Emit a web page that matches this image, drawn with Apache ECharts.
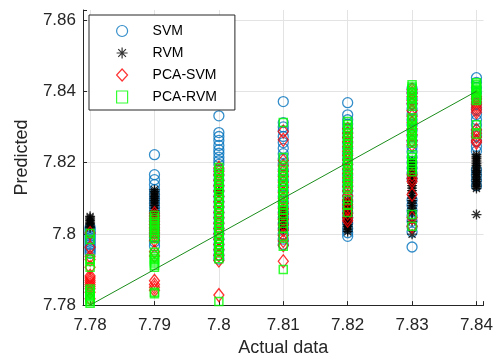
<!DOCTYPE html>
<html>
<head>
<meta charset="utf-8">
<script src="https://cdn.jsdelivr.net/npm/echarts@6/dist/echarts.min.js"></script>
<style>
  html, body { margin: 0; padding: 0; background: #fff; }
  #chart { width: 496px; height: 362px; }
</style>
</head>
<body>
<div id="chart"></div>
<script>
// actual values (x columns)
const xCats = [7.78, 7.79, 7.80, 7.81, 7.82, 7.83, 7.84];

// predicted values per column, one inner list per x value
const svmY = [
  [7.8018, 7.8012, 7.8006, 7.8000, 7.7994, 7.7988, 7.7982, 7.7976, 7.7970, 7.7964, 7.7958, 7.7952, 7.7945],
  [7.8222, 7.8166, 7.8152, 7.8138, 7.8124, 7.8110, 7.8098, 7.8086, 7.8074, 7.8062, 7.8050, 7.8038, 7.8026, 7.8014, 7.8002, 7.7990, 7.7978, 7.7966],
  [7.8331, 7.8284, 7.8273, 7.8262, 7.8248, 7.8236, 7.8226, 7.8215, 7.8205, 7.8195, 7.8180, 7.8165, 7.8150, 7.8135, 7.8120, 7.8105, 7.8090, 7.8075, 7.8060, 7.8045, 7.8030, 7.8015, 7.8000, 7.7985, 7.7970, 7.7955, 7.7940, 7.7929],
  [7.8371, 7.8312, 7.8300, 7.8289, 7.8273, 7.8256, 7.8240, 7.8225, 7.8210, 7.8195, 7.8180, 7.8165, 7.8150, 7.8135, 7.8120, 7.8105, 7.8090, 7.8075, 7.8060, 7.8045, 7.8030, 7.8015, 7.8000, 7.7985, 7.7970],
  [7.8368, 7.8334, 7.8320, 7.8308, 7.8296, 7.8284, 7.8270, 7.8255, 7.8240, 7.8225, 7.8210, 7.8195, 7.8180, 7.8165, 7.8150, 7.8135, 7.8120, 7.8105, 7.8090, 7.8075, 7.8060, 7.8045, 7.8030, 7.8015, 7.8003, 7.7993],
  [7.8408, 7.8395, 7.8380, 7.8365, 7.8350, 7.8335, 7.8320, 7.8305, 7.8290, 7.8275, 7.8260, 7.8245, 7.8230, 7.8215, 7.8200, 7.8185, 7.8170, 7.8155, 7.8095, 7.8080, 7.8065, 7.8050, 7.8035, 7.8020, 7.8005, 7.7963],
  [7.8438, 7.8425, 7.8410, 7.8395, 7.8380, 7.8365, 7.8350, 7.8335, 7.8320, 7.8305, 7.8290, 7.8275, 7.8260, 7.8245, 7.8232, 7.8180, 7.8165, 7.8150, 7.8135]
];
const rvmY = [
  [7.8049, 7.8045, 7.8041, 7.8037, 7.8033, 7.8029, 7.8025, 7.8021, 7.8017],
  [7.8124, 7.8119, 7.8114, 7.8109, 7.8104, 7.8099, 7.8094, 7.8089, 7.8084, 7.8079, 7.8072, 7.8065, 7.8058, 7.8051],
  [7.8121, 7.8117],
  [7.8068, 7.8063, 7.8058, 7.8053, 7.8048, 7.8043, 7.8038, 7.8033, 7.8028, 7.8023, 7.8018, 7.8013],
  [7.8095, 7.8090, 7.8085, 7.8080, 7.8075, 7.8070, 7.8066, 7.8061, 7.8056, 7.8051, 7.8046, 7.8041, 7.8036, 7.8031, 7.8026, 7.8021, 7.8016, 7.8011, 7.8006],
  [7.8205, 7.8198, 7.8191, 7.8184, 7.8177, 7.8170, 7.8163, 7.8156, 7.8149, 7.8142, 7.8135, 7.8128, 7.8121, 7.8114, 7.8107, 7.8100, 7.8093, 7.8086, 7.8079, 7.8072, 7.8065, 7.8058, 7.8035, 7.7999],
  [7.8222, 7.8217, 7.8212, 7.8207, 7.8202, 7.8197, 7.8192, 7.8187, 7.8182, 7.8177, 7.8172, 7.8167, 7.8162, 7.8157, 7.8152, 7.8147, 7.8142, 7.8137, 7.8132, 7.8127, 7.8054]
];
const pcaSvmY = [
  [7.8002, 7.7962, 7.7936, 7.7928, 7.7906, 7.7882, 7.7876, 7.7870, 7.7864, 7.7858, 7.7852, 7.7846, 7.7836, 7.7818],
  [7.8058, 7.8050, 7.8042, 7.8034, 7.8026, 7.8018, 7.8010, 7.8002, 7.7994, 7.7982, 7.7950, 7.7938, 7.7868, 7.7858, 7.7850, 7.7842],
  [7.8185, 7.8175, 7.8165, 7.8150, 7.8135, 7.8120, 7.8105, 7.8090, 7.8075, 7.8060, 7.8045, 7.8030, 7.8015, 7.8000, 7.7985, 7.7970, 7.7955, 7.7940, 7.7925, 7.7828],
  [7.8287, 7.8264, 7.8205, 7.8190, 7.8175, 7.8160, 7.8145, 7.8130, 7.8115, 7.8100, 7.8085, 7.8070, 7.8055, 7.8040, 7.8025, 7.8010, 7.7995, 7.7980, 7.7968, 7.7923],
  [7.8295, 7.8282, 7.8270, 7.8258, 7.8245, 7.8232, 7.8220, 7.8207, 7.8195, 7.8182, 7.8170, 7.8157, 7.8145, 7.8132, 7.8120, 7.8107, 7.8095, 7.8082, 7.8070, 7.8057, 7.8045, 7.8037],
  [7.8404, 7.8395, 7.8385, 7.8375, 7.8365, 7.8345, 7.8330, 7.8312, 7.8295, 7.8278, 7.8262, 7.8250, 7.8165, 7.8155, 7.8147, 7.8110, 7.8045, 7.8021],
  [7.8385, 7.8378, 7.8370, 7.8362, 7.8355, 7.8348, 7.8341, 7.8292, 7.8282, 7.8272, 7.8262, 7.8256]
];
const pcaRvmY = [
  [7.8001, 7.7984, 7.7929, 7.7922, 7.7906, 7.7845, 7.7840, 7.7835, 7.7830, 7.7825, 7.7820, 7.7815, 7.7810, 7.7805],
  [7.8052, 7.8046, 7.8040, 7.8034, 7.8028, 7.8022, 7.8016, 7.8010, 7.8004, 7.7998, 7.7992, 7.7986, 7.7948, 7.7942, 7.7936, 7.7930, 7.7924, 7.7918, 7.7912, 7.7906, 7.7836, 7.7832],
  [7.8186, 7.8178, 7.8170, 7.8162, 7.8154, 7.8146, 7.8138, 7.8130, 7.8122, 7.8114, 7.8106, 7.8098, 7.8090, 7.8082, 7.8074, 7.8066, 7.8058, 7.8050, 7.8042, 7.8034, 7.8026, 7.8018, 7.8010, 7.8002, 7.7994, 7.7986, 7.7978, 7.7970, 7.7962, 7.7954, 7.7946, 7.7938, 7.7930, 7.7810],
  [7.8312, 7.8214, 7.8186, 7.8178, 7.8170, 7.8162, 7.8154, 7.8146, 7.8138, 7.8130, 7.8122, 7.8114, 7.8106, 7.8098, 7.8090, 7.8082, 7.8074, 7.8066, 7.8058, 7.8045, 7.8030, 7.8015, 7.7993, 7.7965, 7.7900],
  [7.8315, 7.8307, 7.8299, 7.8291, 7.8283, 7.8275, 7.8267, 7.8259, 7.8251, 7.8243, 7.8235, 7.8227, 7.8219, 7.8211, 7.8203, 7.8195, 7.8187, 7.8179, 7.8171, 7.8163, 7.8155, 7.8147, 7.8139, 7.8131, 7.8125, 7.8095, 7.8080, 7.8060],
  [7.8418, 7.8412, 7.8406, 7.8400, 7.8394, 7.8388, 7.8382, 7.8376, 7.8370, 7.8364, 7.8358, 7.8326, 7.8320, 7.8314, 7.8308, 7.8302, 7.8296, 7.8290, 7.8284, 7.8278, 7.8272, 7.8266, 7.8260, 7.8254, 7.8222, 7.8214, 7.8206, 7.8198, 7.8190, 7.8182, 7.8174, 7.8054, 7.8021],
  [7.8424, 7.8419, 7.8414, 7.8409, 7.8404, 7.8399, 7.8394, 7.8389, 7.8384, 7.8379, 7.8374, 7.8306, 7.8280]
];
// y = x reference line
const fitX = [7.78, 7.84];
const fitY = [7.78, 7.84];

const toPoints = (cols) => {
  const pts = [];
  cols.forEach((vals, i) => vals.forEach(v => pts.push([xCats[i], v])));
  return pts;
};

const chart = echarts.init(document.getElementById('chart'), null, { renderer: 'canvas' });

const FONT = 'Liberation Sans, Arial, sans-serif';
const TXT = '#262626';
const GRID = '#e3e3e3';
const STAR = 'path://M5,0L5,10M0,5L10,5M1.5,1.5L8.5,8.5M1.5,8.5L8.5,1.5';

const hollow = (c, w) => ({ color: 'transparent', borderColor: c, borderWidth: w || 1.3 });

const option = {
  animation: false,
  backgroundColor: '#fff',
  grid: { left: 83, right: 12, top: 10, bottom: 56, containLabel: false },
  legend: {
    orient: 'vertical',
    left: 89,
    top: 15,
    padding: [9, 18, 6, 27],
    itemWidth: 11,
    itemHeight: 12,
    itemGap: 8,
    borderColor: TXT,
    borderWidth: 1,
    backgroundColor: '#fff',
    textStyle: { fontFamily: FONT, fontSize: 14, color: '#000', padding: [0, 0, 0, 20] },
    data: [
      { name: 'SVM', icon: 'circle', itemStyle: hollow('#0072BD', 1.2) },
      { name: 'RVM', icon: STAR, itemStyle: hollow('#000', 1.2) },
      { name: 'PCA-SVM', icon: 'diamond', itemStyle: hollow('#ff0000', 1.2) },
      { name: 'PCA-RVM', icon: 'rect', itemStyle: hollow('#00ff00', 1.2) }
    ]
  },
  xAxis: {
    type: 'value',
    min: 7.7789,
    max: 7.8411,
    splitNumber: 6,
    name: 'Actual data',
    nameLocation: 'middle',
    nameGap: 33,
    nameTextStyle: { fontFamily: FONT, fontSize: 18, color: TXT },
    axisLine: { lineStyle: { color: TXT, width: 1 } },
    axisTick: { inside: true, length: 4, lineStyle: { color: TXT } },
    axisLabel: {
      fontFamily: FONT, fontSize: 17, color: TXT, margin: 12,
      formatter: v => Math.abs(v * 100 - Math.round(v * 100)) < 1e-6 ? String(+v.toFixed(2)) : ''
    },
    splitLine: {
      show: true,
      lineStyle: { color: ['transparent', GRID, GRID, GRID, GRID, GRID, GRID, GRID, 'transparent'], width: 1 }
    }
  },
  yAxis: {
    type: 'value',
    min: 7.78,
    max: 7.8628,
    splitNumber: 4,
    name: 'Predicted',
    nameLocation: 'middle',
    nameGap: 52,
    nameTextStyle: { fontFamily: FONT, fontSize: 18, color: TXT },
    axisLine: { show: true, lineStyle: { color: TXT, width: 1 } },
    axisTick: { show: true, inside: true, length: 4, lineStyle: { color: TXT } },
    axisLabel: {
      fontFamily: FONT, fontSize: 17, color: TXT, margin: 7,
      formatter: v => Math.abs(v * 50 - Math.round(v * 50)) < 1e-6 ? String(+v.toFixed(2)) : ''
    },
    splitLine: {
      show: true,
      lineStyle: { color: ['transparent', GRID, GRID, GRID, GRID, 'transparent'], width: 1 }
    }
  },
  series: [
    {
      name: 'SVM', type: 'scatter', symbol: 'circle', symbolSize: 10,
      itemStyle: hollow('#0072BD'), data: toPoints(svmY), z: 2
    },
    {
      name: 'RVM', type: 'scatter', symbol: STAR, symbolSize: 10,
      itemStyle: hollow('#000'), data: toPoints(rvmY), z: 2
    },
    {
      name: 'PCA-SVM', type: 'scatter', symbol: 'diamond', symbolSize: [10, 13],
      itemStyle: hollow('#ff0000'), data: toPoints(pcaSvmY), z: 2
    },
    {
      name: 'PCA-RVM', type: 'scatter', symbol: 'rect', symbolSize: 8,
      itemStyle: hollow('#00ff00', 1.5), data: toPoints(pcaRvmY), z: 2
    },
    {
      name: 'fit', type: 'line', symbol: 'none', z: 3,
      lineStyle: { color: '#1a8c1a', width: 1 },
      data: fitX.map((x, i) => [x, fitY[i]])
    }
  ]
};

chart.setOption(option);
window.addEventListener('resize', () => chart.resize());
</script>
</body>
</html>
